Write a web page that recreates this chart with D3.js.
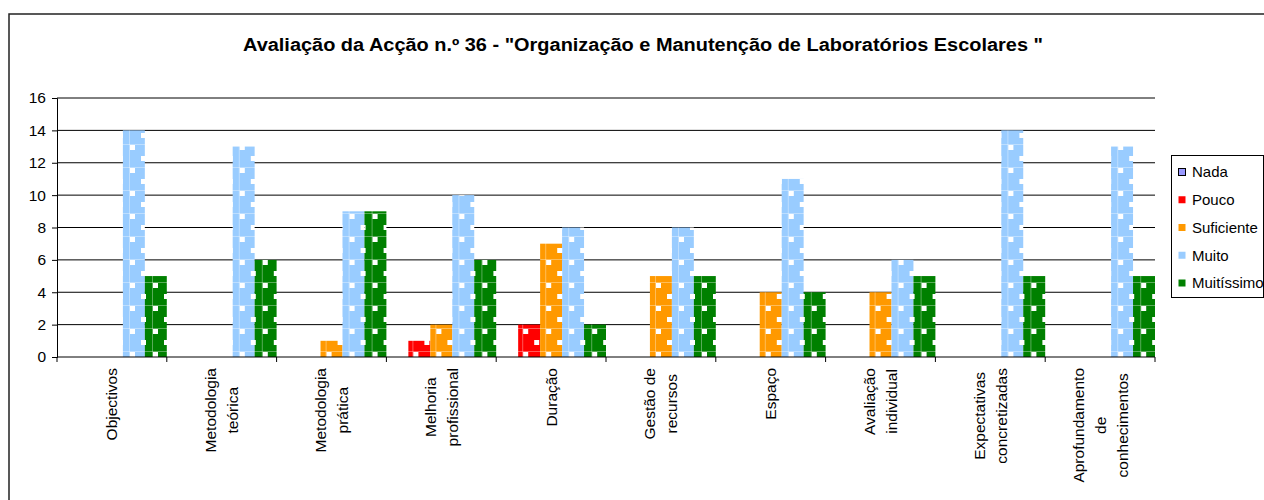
<!DOCTYPE html>
<html>
<head>
<meta charset="utf-8">
<script src="https://cdn.jsdelivr.net/npm/d3@7"></script>
<style>
  body { margin: 0; background: #fff; }
  svg { display: block; font-family: "Liberation Sans", Arial, sans-serif; }
</style>
</head>
<body>
<script>
const categories = [
  "Objectivos",
  "Metodologia\nteórica",
  "Metodologia\nprática",
  "Melhoria\nprofissional",
  "Duração",
  "Gestão de\nrecursos",
  "Espaço",
  "Avaliação\nindividual",
  "Expectativas\nconcretizadas",
  "Aprofundamento\nde\nconhecimentos"
];
const seriesNames = ["Nada", "Pouco", "Suficiente", "Muito", "Muitíssimo"];
const nada = [0, 0, 0, 0, 0, 0, 0, 0, 0, 0];
const pouco = [0, 0, 0, 1, 2, 0, 0, 0, 0, 0];
const suficiente = [0, 0, 1, 2, 7, 5, 4, 4, 0, 0];
const muito = [14, 13, 9, 10, 8, 8, 11, 6, 14, 13];
const muitissimo = [5, 6, 9, 6, 2, 5, 4, 5, 5, 5];
const yTicks = [0, 2, 4, 6, 8, 10, 12, 14, 16];
const titleText = "Avaliação da Acção n.º 36 - \"Organização e Manutenção de Laboratórios Escolares \"";

const seriesValues = [nada, pouco, suficiente, muito, muitissimo];
const colors = ["#9999ff", "#ff0000", "#ff9900", "#99ccff", "#008000"];

const width = 1264, height = 500;
const plot = { left: 57, right: 1155, top: 98, bottom: 357 };

const svg = d3.select("body").append("svg")
  .attr("width", width)
  .attr("height", height);

// patterned fills (white squares on a 23px lattice, anchored to the page)
const defs = svg.append("defs");
colors.forEach((c, i) => {
  const p = defs.append("pattern")
    .attr("id", "pat" + i)
    .attr("patternUnits", "userSpaceOnUse")
    .attr("x", 130).attr("y", 133)
    .attr("width", 23).attr("height", 23);
  p.append("rect").attr("width", 23).attr("height", 23).attr("fill", c);
  if (i === 0) return;
  p.append("rect").attr("x", 11).attr("y", 0).attr("width", 1).attr("height", 23)
    .attr("fill", "#fff").attr("fill-opacity", 0.35);
  p.append("rect").attr("x", 0).attr("y", 11).attr("width", 23).attr("height", 1)
    .attr("fill", "#fff").attr("fill-opacity", 0.35);
  p.append("rect").attr("x", 0).attr("y", 0).attr("width", 5).attr("height", 5).attr("fill", "#fff");
  p.append("rect").attr("x", 12).attr("y", 12).attr("width", 5).attr("height", 5).attr("fill", "#fff");
});

// outer chart border
svg.append("rect")
  .attr("x", 9).attr("y", 14)
  .attr("width", 1300).attr("height", 600)
  .attr("fill", "none")
  .attr("stroke", "#222")
  .attr("stroke-width", 1.5);

// title
svg.append("text")
  .attr("x", 643).attr("y", 51)
  .attr("text-anchor", "middle")
  .attr("font-size", 18)
  .attr("font-weight", "bold")
  .attr("textLength", 800)
  .attr("lengthAdjust", "spacingAndGlyphs")
  .text(titleText);

const x0 = d3.scaleBand().domain(d3.range(categories.length))
  .range([plot.left, plot.right]).paddingInner(0).paddingOuter(0);
const x1 = d3.scaleBand().domain(d3.range(seriesNames.length))
  .range([0, x0.bandwidth()]).padding(0);
const y = d3.scaleLinear().domain([0, 16]).range([plot.bottom, plot.top]);

// gridlines
svg.append("g")
  .selectAll("line")
  .data(yTicks.filter(d => d > 0))
  .join("line")
  .attr("x1", plot.left).attr("x2", plot.right)
  .attr("y1", d => y(d)).attr("y2", d => y(d))
  .attr("stroke", "#000").attr("stroke-width", 1);

// y axis
const yAxis = svg.append("g")
  .attr("transform", `translate(${plot.left},0)`)
  .call(d3.axisLeft(y).tickValues(yTicks).tickSize(5).tickPadding(6));
yAxis.select(".domain").attr("stroke", "#000");
yAxis.selectAll("text").attr("font-size", 15.5).attr("fill", "#000").attr("font-family", null);

// bars
const groups = svg.append("g").selectAll("g")
  .data(categories)
  .join("g")
  .attr("transform", (d, i) => `translate(${x0(i)},0)`);

groups.selectAll("rect")
  .data((d, i) => seriesValues.map((vals, s) => ({ s, v: vals[i] })))
  .join("rect")
  .attr("x", d => x1(d.s))
  .attr("width", x1.bandwidth())
  .attr("y", d => y(d.v))
  .attr("height", d => y(0) - y(d.v))
  .attr("fill", d => `url(#pat${d.s})`);

// x axis line and ticks at category boundaries
svg.append("line")
  .attr("x1", plot.left).attr("x2", plot.right)
  .attr("y1", plot.bottom).attr("y2", plot.bottom)
  .attr("stroke", "#000");
svg.append("g").selectAll("line")
  .data(d3.range(categories.length + 1))
  .join("line")
  .attr("x1", i => plot.left + i * x0.step())
  .attr("x2", i => plot.left + i * x0.step())
  .attr("y1", plot.bottom).attr("y2", plot.bottom + 5)
  .attr("stroke", "#000");

// rotated category labels
const lineH = 22;
const labelTop = 368;
categories.forEach((label, i) => {
  const lines = label.split("\n");
  const cx = x0(i) + x0.bandwidth() / 2;
  const g = svg.append("g")
    .attr("transform", `translate(${cx},${labelTop}) rotate(-90)`);
  const texts = g.selectAll("text")
    .data(lines)
    .join("text")
    .attr("font-size", 15.5)
    .attr("text-anchor", "middle")
    .attr("dy", "0.35em")
    .attr("y", (d, j) => (j - (lines.length - 1) / 2) * lineH)
    .text(d => d);
  const maxLen = d3.max(texts.nodes(), n => n.getComputedTextLength());
  texts.attr("x", -maxLen / 2);
});

// legend
const legend = svg.append("g");
legend.append("rect")
  .attr("x", 1171.5).attr("y", 155.5)
  .attr("width", 92).attr("height", 142)
  .attr("fill", "#fff").attr("stroke", "#000");
seriesNames.forEach((name, i) => {
  const cy = 172 + i * 27.75;
  legend.append("rect")
    .attr("x", 1178.5).attr("y", cy - 3.5)
    .attr("width", 7).attr("height", 7)
    .attr("fill", colors[i])
    .attr("stroke", i === 0 ? "#000" : "none");
  legend.append("text")
    .attr("x", 1192).attr("y", cy)
    .attr("dy", "0.35em")
    .attr("font-size", 15)
    .text(name);
});
</script>
</body>
</html>
